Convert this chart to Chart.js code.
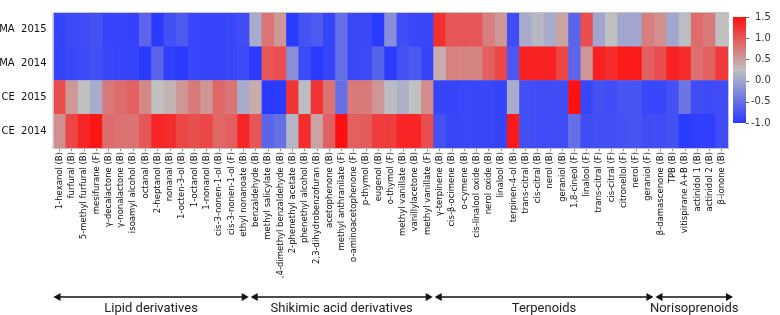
<!DOCTYPE html>
<html>
<head>
<meta charset="utf-8">
<script src="https://cdn.jsdelivr.net/npm/chart.js@4.4.1/dist/chart.umd.min.js"></script>
<style>
  html, body { margin: 0; padding: 0; background: #fff; }
  #wrap { width: 780px; height: 315px; position: relative; }
</style>
</head>
<body>
<div id="wrap"><canvas id="heatmap"></canvas></div>
<script>
// Volatile compounds (columns of the heatmap)
const compounds = [
    '1-hexanol (B)', 'furfural (B)', '5-methyl furfural (B)', 'mesifurane (F)', 'γ-decalactone (B)',
    'γ-nonalactone (B)', 'isoamyl alcohol (B)', 'octanal (B)', '2-heptanol (B)', 'nonanal (B)',
    '1-octen-3-ol (B)', '1-octanol (B)', '1-nonanol (B)', 'cis-3-nonen-1-ol (B)', 'cis-3-nonen-1-ol (F)',
    'ethyl nonanoate (B)',
    'benzaldehyde (B)', 'methyl salicylate (B)', '3,4-dimethyl benzaldehyde (B)', '2-phenethyl acetate (B)',
    'phenethyl alcohol (B)', '2,3-dihydrobenzofuran (B)', 'acetophenone (B)', 'methyl anthranilate (F)',
    'o-aminoacetophenone (F)', 'p-thymol (B)', 'eugenol (B)', 'o-thymol (F)', 'methyl vanillate (B)',
    'vanillylacetone (B)', 'methyl vanillate (F)',
    'γ-terpinene (B)', 'cis-β-ocimene (B)', 'o-cymene (B)', 'cis-linalool oxide (B)', 'nerol oxide (B)',
    'linalool (B)', 'terpinen-4-ol (B)', 'trans-citral (B)', 'cis-citral (B)', 'nerol (B)', 'geraniol (B)',
    '1,8-cineol (F)', 'linalool (F)', 'trans-citral (F)', 'cis-citral (F)', 'citronellol (F)', 'nerol (F)',
    'geraniol (F)',
    'β-damascenone (B)', 'TPB (B)', 'vitispirane A+B (B)', 'actinidol 1 (B)', 'actinidol 2 (B)', 'β-ionone (B)'
];

const groupNames = ['Lipid derivatives', 'Shikimic acid derivatives', 'Terpenoids', 'Norisoprenoids'];
const groupSizes = [16, 15, 18, 6];

// z-scores per sample (rows)
const ma2015 = [
    -0.90, -0.85, -0.82, -0.78, -0.90, -0.90, -0.92, -0.60, -1.00, -0.80, -0.70, -0.88, -0.90, -0.90, -0.88, -0.82,
    0.05, 0.78, 0.55, -1.00, -0.78, -0.70, -0.90, -0.50, -0.87, -0.87, -1.00, -0.22, -0.82, -0.88, -0.88,
    1.27, 1.00, 1.00, 1.00, 0.72, 0.55, -0.82, 0.05, 0.18, 0.05, 0.45, -0.60, 1.07, 0.00, 0.25, 0.00, 0.00, 0.72,
    0.60, 0.00, 0.22, 0.85, 0.75, 0.25
];
const ma2014 = [
    -0.90, -0.88, -0.85, -0.80, -0.88, -0.90, -0.90, -1.00, -0.60, -0.95, -1.00, -0.88, -0.90, -0.90, -0.88, -0.85,
    -1.00, 1.00, 1.07, -0.22, -0.85, -1.00, -0.90, -0.50, -0.87, -0.85, -0.62, -1.00, -0.78, -0.72, -0.90,
    0.38, 0.70, 0.68, 0.68, 0.93, 1.12, -0.72, 1.38, 1.38, 1.38, 1.12, -0.60, 0.55, 1.38, 1.30, 1.42, 1.42, 0.93,
    1.07, 1.38, 1.30, 0.82, 0.93, 1.20
];
const ce2015 = [
    1.07, 0.55, 0.25, 0.05, 0.75, 0.85, 0.93, 0.65, 0.25, 0.35, 0.55, 0.75, 0.55, 0.88, 0.78, 0.05,
    0.40, -1.00, -1.00, 1.25, 0.22, 1.25, 0.80, -0.50, 0.75, 0.75, 0.55, 0.22, 0.10, 0.25, 0.62,
    -0.90, -0.90, -0.88, -0.88, -0.88, -0.90, 0.05, -0.80, -0.82, -0.82, -0.82, 1.50, -0.88, -0.78, -0.82, -0.75, -0.75, -0.88,
    -0.88, -0.78, -0.45, -0.82, -0.85, -0.82
];
const ce2014 = [
    0.60, 1.12, 1.35, 1.45, 0.85, 0.80, 0.80, 1.00, 1.35, 1.30, 1.12, 1.05, 1.12, 0.88, 0.93, 1.35,
    1.00, -0.60, -0.50, 0.15, 1.30, 0.45, 0.93, 1.50, 0.93, 0.97, 1.18, 1.18, 1.35, 1.35, 1.07,
    -0.78, -0.88, -0.88, -0.88, -0.88, -0.90, 1.43, -0.80, -0.82, -0.82, -0.82, -0.50, -0.82, -0.80, -0.80, -0.78, -0.75, -0.82,
    -0.82, -0.78, -1.00, -0.95, -0.95, -0.82
];

const colorbarTicks = [-1.0, -0.5, 0.0, 0.5, 1.0, 1.5];

// bottom row first, since bars are stacked upwards
const rows = [
    { label: 'CE  2014', values: ce2014 },
    { label: 'CE  2015', values: ce2015 },
    { label: 'MA  2014', values: ma2014 },
    { label: 'MA  2015', values: ma2015 }
];

// blue -> grey -> red
const colorStops = [
    [-1.0, [42, 58, 255]],
    [0.25, [192, 192, 192]],
    [1.5, [255, 16, 16]]
];

function zColor(v) {
    const lo = colorStops[0][0], hi = colorStops[colorStops.length - 1][0];
    v = Math.max(lo, Math.min(hi, v));
    for (let i = 0; i < colorStops.length - 1; i++) {
        const [a, ca] = colorStops[i];
        const [b, cb] = colorStops[i + 1];
        if (v <= b) {
            const t = (v - a) / (b - a);
            const c = ca.map((x, k) => Math.round(x + (cb[k] - x) * t));
            return `rgb(${c[0]}, ${c[1]}, ${c[2]})`;
        }
    }
    return 'rgb(255, 16, 16)';
}

const decorations = {
    id: 'decorations',
    afterDatasetsDraw(chart) {
        const { ctx, chartArea: a, scales: { x } } = chart;
        ctx.save();

        // frame round the heatmap
        ctx.strokeStyle = '#c4c4c4';
        ctx.lineWidth = 1;
        ctx.strokeRect(a.left - 0.5, a.top - 0.5, a.width + 1, a.height + 1);

        // colour bar
        const cbLeft = a.right + 5, cbWidth = 13, cbTop = 17, cbBottom = 123;
        const lo = colorStops[0][0], hi = colorStops[colorStops.length - 1][0];
        const grad = ctx.createLinearGradient(0, cbBottom, 0, cbTop);
        colorStops.forEach(([v]) => grad.addColorStop((v - lo) / (hi - lo), zColor(v)));
        ctx.fillStyle = grad;
        ctx.fillRect(cbLeft, cbTop, cbWidth, cbBottom - cbTop);

        ctx.fillStyle = '#333';
        ctx.strokeStyle = '#666';
        ctx.font = '10px "DejaVu Sans", sans-serif';
        ctx.textAlign = 'left';
        ctx.textBaseline = 'middle';
        colorbarTicks.forEach(t => {
            const y = cbBottom - (t - lo) / (hi - lo) * (cbBottom - cbTop);
            ctx.beginPath();
            ctx.moveTo(cbLeft + cbWidth, Math.round(y) + 0.5);
            ctx.lineTo(cbLeft + cbWidth + 3, Math.round(y) + 0.5);
            ctx.stroke();
            ctx.fillText(t.toFixed(1), cbLeft + cbWidth + (t < 0 ? 5 : 9), y);
        });

        // compound group arrows
        const half = (x.getPixelForValue(1) - x.getPixelForValue(0)) / 2;
        const arrowY = 297;
        let start = 0;
        groupNames.forEach((name, g) => {
            const end = start + groupSizes[g] - 1;
            let x1 = x.getPixelForValue(start) - half + 1;
            let x2 = x.getPixelForValue(end) + half - 1;
            if (g === 0) x1 -= 1;
            if (g === groupNames.length - 1) x2 += 6;

            ctx.strokeStyle = '#111';
            ctx.fillStyle = '#111';
            ctx.lineWidth = 1.5;
            ctx.beginPath();
            ctx.moveTo(x1 + 4, arrowY);
            ctx.lineTo(x2 - 4, arrowY);
            ctx.stroke();
            ctx.beginPath();
            ctx.moveTo(x1, arrowY);
            ctx.lineTo(x1 + 7, arrowY - 4);
            ctx.lineTo(x1 + 7, arrowY + 4);
            ctx.closePath();
            ctx.fill();
            ctx.beginPath();
            ctx.moveTo(x2, arrowY);
            ctx.lineTo(x2 - 7, arrowY - 4);
            ctx.lineTo(x2 - 7, arrowY + 4);
            ctx.closePath();
            ctx.fill();

            ctx.fillStyle = '#222';
            ctx.font = '13px Roboto, sans-serif';
            ctx.textAlign = 'center';
            ctx.textBaseline = 'middle';
            ctx.fillText(name, (x1 + x2) / 2, 309);

            start = end + 1;
        });

        ctx.restore();
    }
};

new Chart(document.getElementById('heatmap'), {
    type: 'bar',
    data: {
        labels: compounds,
        datasets: rows.map(r => ({
            label: r.label,
            data: r.values.map(() => 1),
            backgroundColor: r.values.map(zColor),
            borderWidth: 0,
            barPercentage: 1,
            categoryPercentage: 1
        }))
    },
    options: {
        responsive: true,
        maintainAspectRatio: false,
        animation: false,
        layout: {
            padding: { top: 5, right: 52, bottom: 37, left: 0 }
        },
        plugins: {
            legend: { display: false },
            tooltip: { enabled: false }
        },
        scales: {
            x: {
                stacked: true,
                grid: {
                    display: true,
                    drawOnChartArea: false,
                    drawTicks: true,
                    tickLength: 3,
                    offset: false,
                    color: '#888'
                },
                border: { display: false },
                ticks: {
                    autoSkip: false,
                    maxRotation: 90,
                    minRotation: 90,
                    padding: 1,
                    color: '#111',
                    font: { family: '"DejaVu Sans", sans-serif', size: 8.5 }
                },
                afterFit: s => { s.height = 130; }
            },
            y: {
                stacked: true,
                min: 0,
                max: 4,
                grid: { display: false, drawTicks: false },
                border: { display: false },
                afterBuildTicks: s => { s.ticks = [0.5, 1.5, 2.5, 3.5].map(v => ({ value: v })); },
                ticks: {
                    padding: 7,
                    color: '#111',
                    font: { family: '"DejaVu Sans", sans-serif', size: 10 },
                    callback: v => rows[Math.floor(v)].label
                },
                afterFit: s => { s.width = 53.5; }
            }
        }
    },
    plugins: [decorations]
});
</script>
</body>
</html>
